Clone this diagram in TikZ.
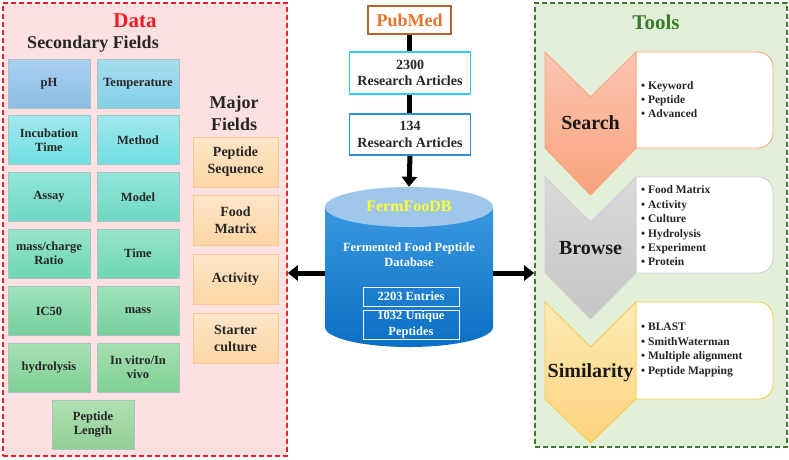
\documentclass[tikz,border=0pt]{standalone}
\usepackage{fontspec}
\setmainfont{Liberation Serif}
\usetikzlibrary{arrows.meta,calc}
\definecolor{datared}{HTML}{EE1C24}
\definecolor{datafill}{HTML}{FDE0E2}
\definecolor{toolgreen}{HTML}{3B7A2A}
\definecolor{toolfill}{HTML}{E2F0DA}
\definecolor{pubbrown}{HTML}{B5652A}
\definecolor{puborange}{HTML}{E8732A}
\definecolor{cyanb}{HTML}{33CCEE}
\definecolor{blueb}{HTML}{2A8FD6}
\definecolor{majfillt}{HTML}{FDE6C8}
\definecolor{majfillb}{HTML}{FDD6A4}
\definecolor{majdraw}{HTML}{F5CA92}
\definecolor{secdraw}{HTML}{A8C4C0}
\definecolor{rAt}{HTML}{A9D0EE}\definecolor{rAb}{HTML}{8CBEE6}
\definecolor{rBt}{HTML}{A6DDEE}\definecolor{rBb}{HTML}{84CFE6}
\definecolor{rCt}{HTML}{A2E8EE}\definecolor{rCb}{HTML}{6EDEE0}
\definecolor{rDt}{HTML}{92E6DA}\definecolor{rDb}{HTML}{6ED8C2}
\definecolor{rEt}{HTML}{96E4CC}\definecolor{rEb}{HTML}{6FD6B4}
\definecolor{rFt}{HTML}{A0E2BC}\definecolor{rFb}{HTML}{76CF9C}
\definecolor{rGt}{HTML}{A6E0B2}\definecolor{rGb}{HTML}{80CF95}
\definecolor{rHt}{HTML}{B0E0B2}\definecolor{rHb}{HTML}{92CF96}
\definecolor{dbtop}{HTML}{9FC7EC}
\definecolor{dbbodyt}{HTML}{3A98DE}
\definecolor{dbbodyb}{HTML}{0A6FC4}
\definecolor{fermyellow}{HTML}{FFFF2E}
\definecolor{srchT}{HTML}{FCC6B2}\definecolor{srchB}{HTML}{F9A27C}\definecolor{srchD}{HTML}{F5A57C}
\definecolor{brwT}{HTML}{D9D9D9}\definecolor{brwB}{HTML}{C6C6C6}\definecolor{brwD}{HTML}{CFCFCF}
\definecolor{simT}{HTML}{FDEBB6}\definecolor{simB}{HTML}{FDD27E}\definecolor{simD}{HTML}{F9CC4A}
\newcommand{\myinfobox}[3]{% top, bottom, draw colour
  \draw[draw=#3, line width=0.9pt, fill=white] (636,#1) -- (758,#1)
    .. controls (766.3,#1) and (773,#1+6.7) .. (773,#1+15) -- (773,#2-15)
    .. controls (773,#2-6.7) and (766.3,#2) .. (758,#2) -- (636,#2) -- cycle;}
\begin{document}
\begin{tikzpicture}[x=1pt,y=-1pt,
  secbox/.style 2 args={draw=secdraw, line width=0.6pt, top color=#1, bottom color=#2,
    minimum width=82pt, minimum height=49pt, inner sep=1pt, align=center,
    font=\bfseries\fontsize{12.5}{14}\selectfont, text=black!85},
  majbox/.style={draw=majdraw, line width=0.6pt, top color=majfillt, bottom color=majfillb,
    minimum width=85pt, minimum height=50pt, inner sep=1pt, align=center,
    font=\bfseries\fontsize{14}{17}\selectfont, text=black!85},
  artbox/.style={draw=#1, line width=1.6pt, fill=white, minimum width=121pt,
    minimum height=41pt, inner sep=1pt, align=center,
    font=\bfseries\fontsize{14}{16.5}\selectfont, text=black!85},
  entbox/.style={draw=white, line width=0.9pt, minimum width=96pt, inner sep=1pt,
    align=center, text=white, font=\bfseries\fontsize{12.5}{15.5}\selectfont},
  title/.style={font=\bfseries\fontsize{#1}{#1}\selectfont},
  bullets/.style={anchor=west, align=left, inner sep=0pt, text=black!85},
  chevlabel/.style={font=\bfseries\fontsize{20}{20}\selectfont, text=black!90},
  thick link/.style={line width=4.5pt, black},
  big arrow/.style={line width=5pt, black, -{Triangle[length=10pt,width=15pt]}},
]
\useasboundingbox (0,0) rectangle (789,459);

% ---------- Data panel ----------
\node[draw=datared, fill=datafill, dashed, dash pattern=on 5pt off 3pt, line width=1.6pt,
  minimum width=284pt, minimum height=453pt, inner sep=0pt] (data) at (145,229.5) {};
\node[title=21, text=datared] (datat) at (135,21) {Data};
\node[title=18, text=black!85] (sect) at (93,44) {Secondary Fields};
\node[text=black!85, align=center, font=\bfseries\fontsize{18}{22}\selectfont] (majt) at (234,113) {Major\\Fields};

\node[secbox={rAt}{rAb}] (ph)   at (49,83.5)   {pH};
\node[secbox={rBt}{rBb}] (temp) at (138,83.5)  {Temperature};
\node[secbox={rCt}{rCb}] (inc)  at (49,140)    {Incubation\\Time};
\node[secbox={rCt}{rCb}] (meth) at (138,140)   {Method};
\node[secbox={rDt}{rDb}] (assay) at (49,197)   {Assay};
\node[secbox={rDt}{rDb}] (model) at (138,197)  {Model};
\node[secbox={rEt}{rEb}] (mz)   at (49,253.5)  {mass/charge\\Ratio};
\node[secbox={rEt}{rEb}] (time) at (138,253.5) {Time};
\node[secbox={rFt}{rFb}] (ic)   at (49,311)    {IC50};
\node[secbox={rFt}{rFb}] (mass) at (138,311)   {mass};
\node[secbox={rGt}{rGb}] (hyd)  at (49,367.5)  {hydrolysis};
\node[secbox={rGt}{rGb}] (vit)  at (138,367.5) {In vitro/In\\vivo};
\node[secbox={rHt}{rHb}] (plen) at (93,424.5)  {Peptide\\Length};

\node[majbox] (pseq) at (235.5,162) {Peptide\\Sequence};
\node[majbox] (fmat) at (235.5,220) {Food\\Matrix};
\node[majbox] (act)  at (235.5,279) {Activity};
\node[majbox] (star) at (235.5,338) {Starter\\culture};

% ---------- Centre ----------
\node[draw=pubbrown, line width=1.6pt, fill=white, minimum width=83pt, minimum height=28pt,
  inner sep=0pt, text=puborange, font=\bfseries\fontsize{18}{18}\selectfont] (pub) at (409.5,20) {PubMed};
\node[artbox=cyanb, minimum height=42pt] (a2300) at (410,73) {2300\\Research Articles};
\node[artbox=blueb] (a134) at (410,134.5) {134\\Research Articles};

% cylinder
\path[top color=dbbodyt, bottom color=dbbodyb]
  (325,207) -- (325,327) arc[start angle=180, end angle=360, x radius=84pt, y radius=20pt]
  -- (493,207) -- cycle;
\fill[dbtop] (409,207) ellipse[x radius=84pt, y radius=20pt];
\node[minimum width=168pt, minimum height=160pt, inner sep=0pt] (db) at (409,267) {};
\node[text=fermyellow, font=\bfseries\fontsize{16}{16}\selectfont] (fname) at (409,206) {FermFooDB};
\node[text=white, align=center, font=\bfseries\fontsize{12.5}{15}\selectfont] (fdesc) at (409,254.5) {Fermented Food Peptide\\Database};
\node[entbox, minimum height=19pt] (ent) at (411,296.5) {2203 Entries};
\node[entbox, minimum height=29pt] (uniq) at (411,324.5) {1032 Unique\\Peptides};

\draw[thick link] (pub.south) -- (pub.south |- a2300.north);
\draw[thick link] (pub.south |- a2300.south) -- (pub.south |- a134.north);
\draw[big arrow] (a134.south) -- (db.north);

\coordinate (dbl) at (325,273);
\coordinate (dbr) at (493,273);

% ---------- Tools panel ----------
\node[draw=toolgreen, fill=toolfill, dashed, dash pattern=on 5pt off 3pt, line width=1.6pt,
  minimum width=252pt, minimum height=444pt, inner sep=0pt] (tools) at (661,225) {};
\node[title=21, text=toolgreen] (toolt) at (656,22) {Tools};

\draw[big arrow] (dbl) -- (dbl -| data.east);
\draw[big arrow] (dbr) -- (dbr -| tools.west);

% info boxes and chevrons
\myinfobox{52}{148}{srchD}
\draw[draw=srchD, line width=0.9pt, top color=srchT, bottom color=srchB]
  (545,52) -- (590.5,97) -- (636,52) -- (636,148) -- (590.5,195) -- (545,148) -- cycle;
\myinfobox{177}{273}{brwD}
\draw[draw=brwD, line width=0.9pt, top color=brwT, bottom color=brwB]
  (545,177) -- (590.5,222) -- (636,177) -- (636,273) -- (590.5,319) -- (545,273) -- cycle;
\myinfobox{302}{399}{simD}
\draw[draw=simD, line width=0.9pt, top color=simT, bottom color=simB]
  (545,302) -- (590.5,347) -- (636,302) -- (636,399) -- (590.5,443) -- (545,399) -- cycle;

\node[chevlabel] (search) at (590.5,123) {Search};
\node[chevlabel] (browse) at (590.5,248) {Browse};
\node[chevlabel] (simil)  at (590.5,373) {Similarity};

\node[bullets, font=\bfseries\fontsize{11.5}{14}\selectfont] (sb) at (641,100)
  {\textbullet\ Keyword\\\textbullet\ Peptide\\\textbullet\ Advanced};
\node[bullets, font=\bfseries\fontsize{11.5}{14.4}\selectfont] (bb) at (641,226)
  {\textbullet\ Food Matrix\\\textbullet\ Activity\\\textbullet\ Culture\\\textbullet\ Hydrolysis\\\textbullet\ Experiment\\\textbullet\ Protein};
\node[bullets, font=\bfseries\fontsize{11.5}{14.7}\selectfont] (simb) at (641,350)
  {\textbullet\ BLAST\\\textbullet\ SmithWaterman\\\textbullet\ Multiple alignment\\\textbullet\ Peptide Mapping};
\end{tikzpicture}
\end{document}
